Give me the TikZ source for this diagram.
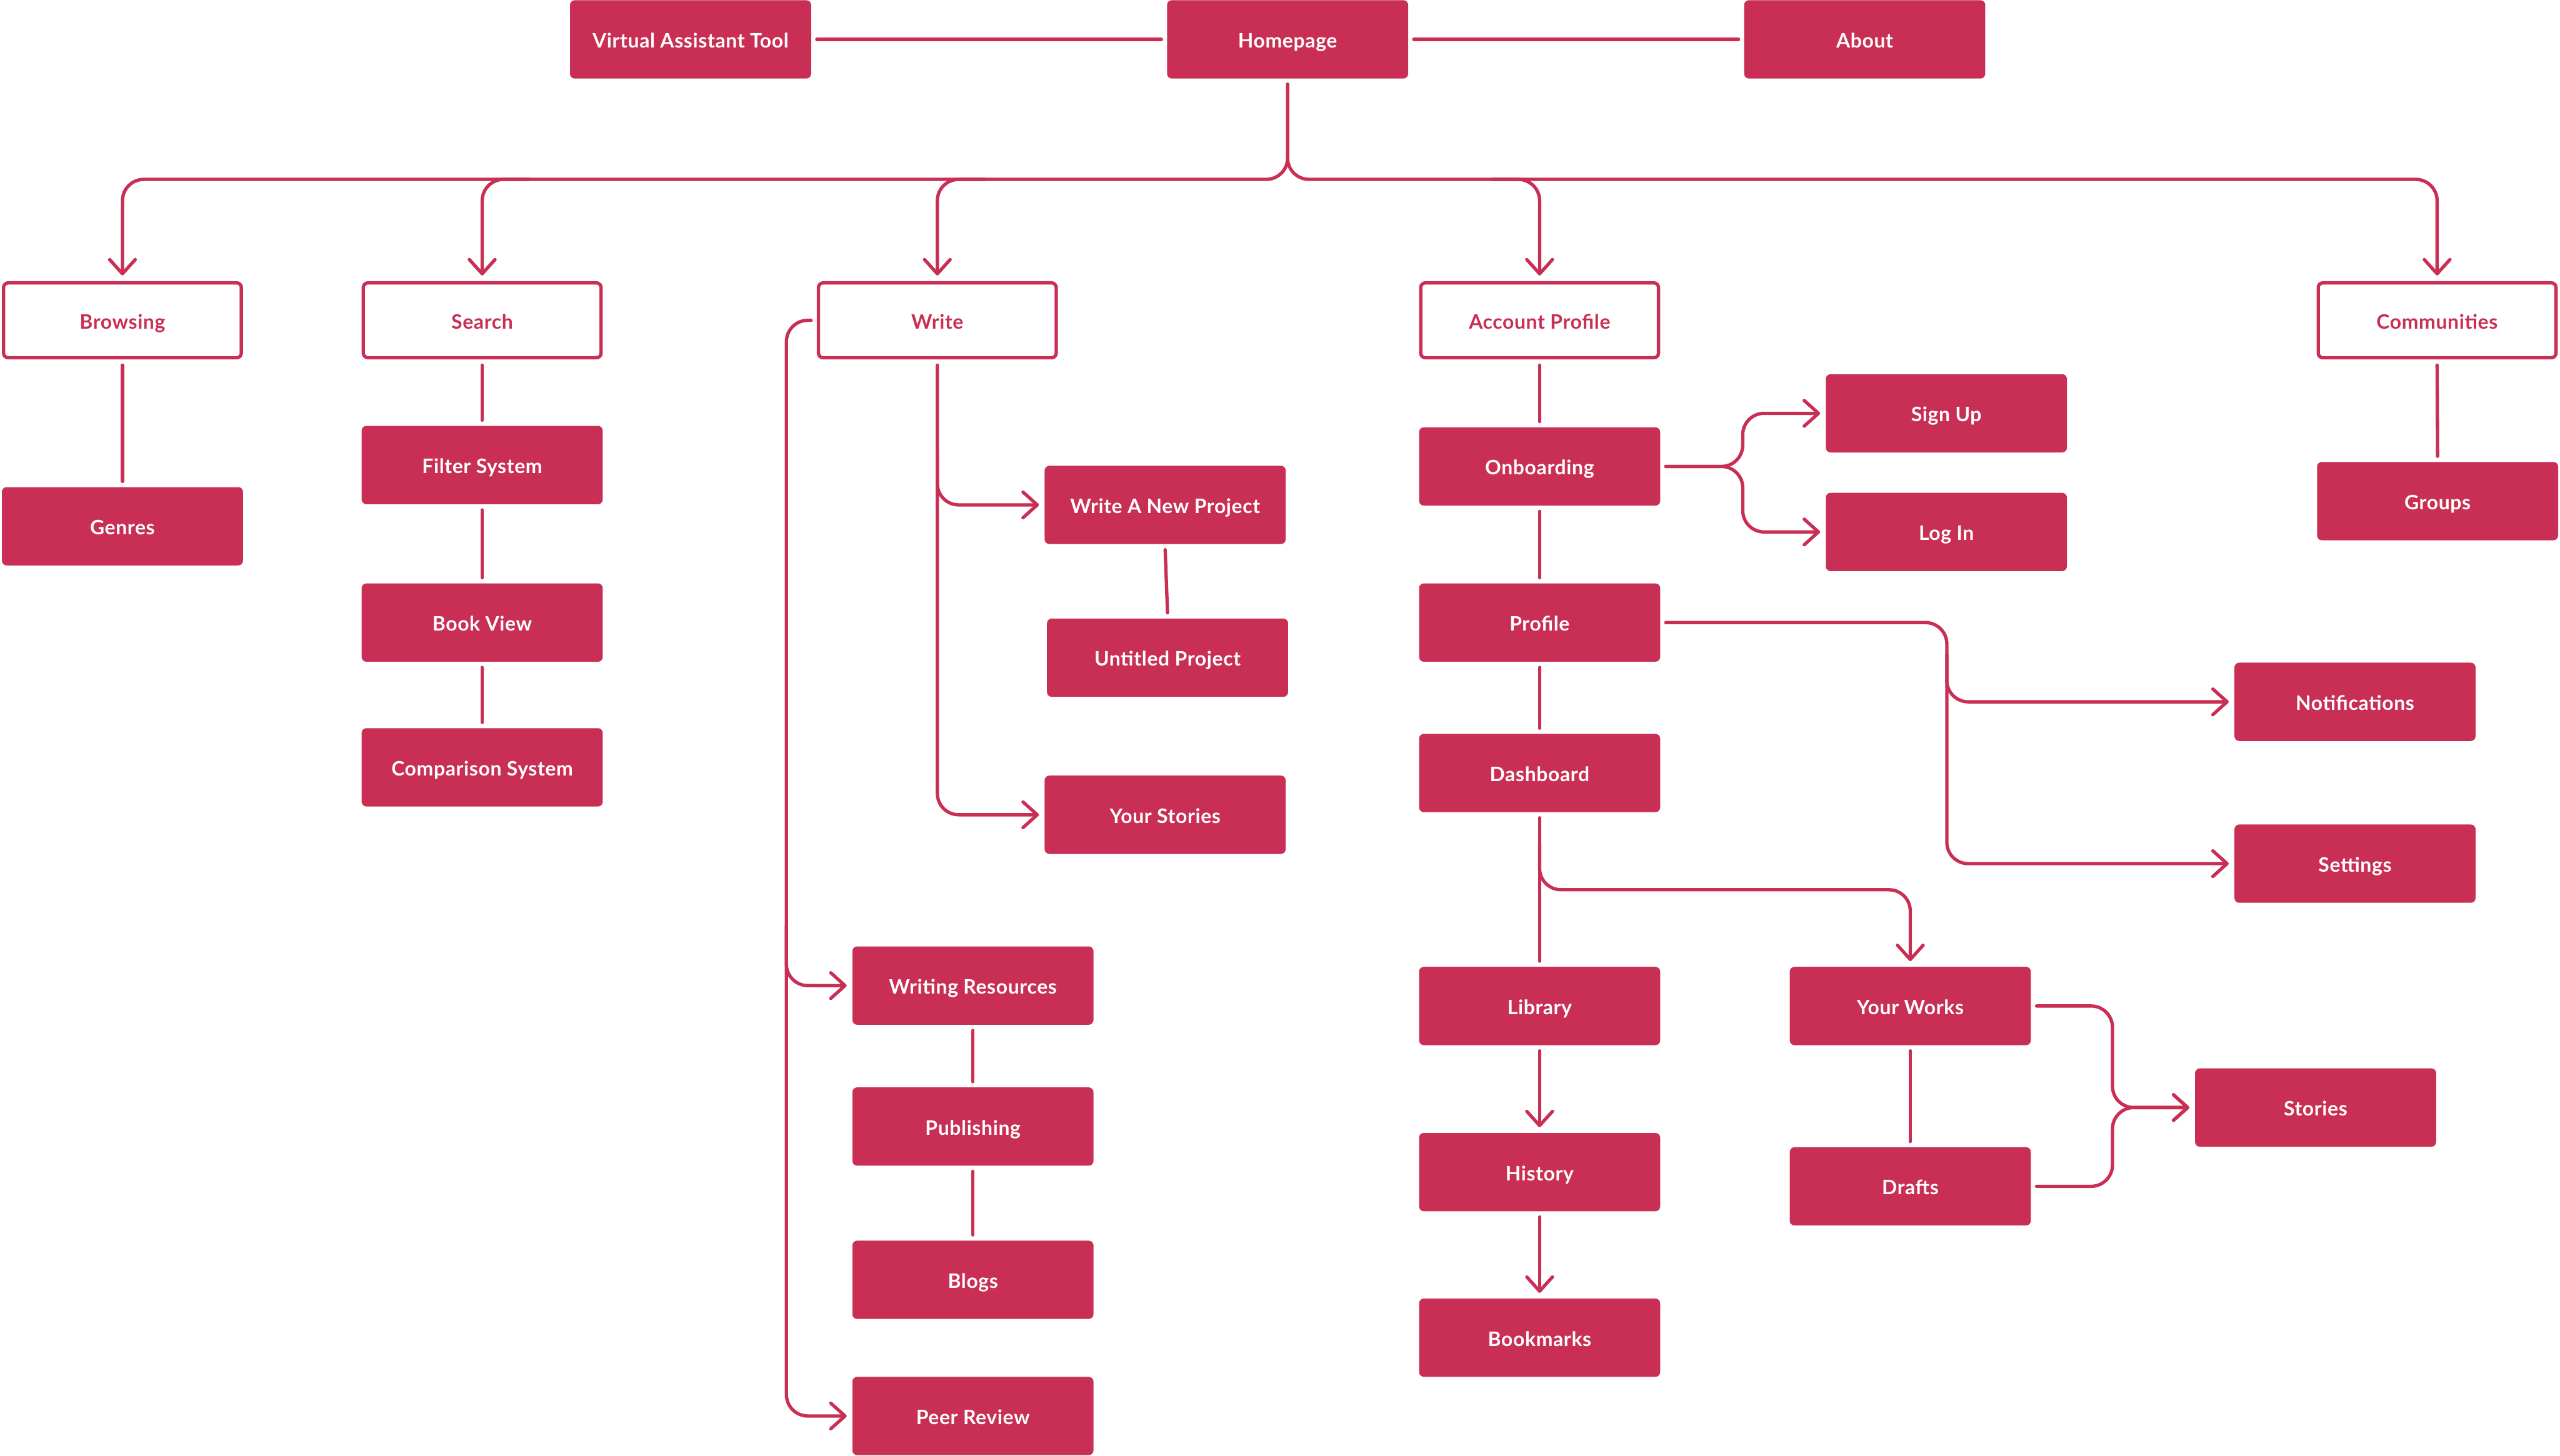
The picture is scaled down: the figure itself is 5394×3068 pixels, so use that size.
\documentclass[tikz,border=0pt]{standalone}
\usepackage{fontspec}
\setmainfont{Lato}[LetterSpace=2]
\usetikzlibrary{arrows.meta}
\definecolor{crim}{RGB}{201,46,84}
\begin{document}
\begin{tikzpicture}[x=0.2pt,y=-0.2pt,
  lbl/.style={font=\fontsize{8.4}{10}\selectfont\bfseries, text height=7.1pt, text depth=0pt},
  fbox/.style={lbl, rectangle, rounded corners=2pt, fill=crim, text=white, minimum width=101.6pt, minimum height=33pt, inner sep=0pt, outer sep=2.4pt},
  obox/.style={lbl, rectangle, rounded corners=2pt, draw=crim, line width=1.4pt, fill=white, text=crim, minimum width=100.2pt, minimum height=31.6pt, inner sep=0pt, outer sep=3.1pt},
  link/.style={draw=crim, line width=1.4pt, line cap=round, line join=round, rounded corners=9pt},
  arr/.style={link, -{Straight Barb[length=6pt,width=10.8pt,line cap=round,line join=round]}},
]
\useasboundingbox (0,0) rectangle (5394,3068);

% top row
\node[fbox] (vat) at (1455,83) {Virtual Assistant Tool};
\node[fbox] (hp) at (2713,83) {Homepage};
\node[fbox] (about) at (3929,83) {About};

% second row
\node[obox] (brw) at (258,675) {Browsing};
\node[obox] (srch) at (1016,675) {Search};
\node[obox] (wrt) at (1975,675) {Write};
\node[obox] (acc) at (3244,675) {Account Profile};
\node[obox] (com) at (5135,675) {Communities};

% browsing / search
\node[fbox] (gen) at (258,1109) {Genres};
\node[fbox] (filt) at (1016,980) {Filter System};
\node[fbox] (bv) at (1016,1312) {Book View};
\node[fbox] (comp) at (1016,1617) {Comparison System};

% write
\node[fbox] (wanp) at (2455,1064) {Write A New Project};
\node[fbox] (up) at (2460,1386) {Untitled Project};
\node[fbox] (ys) at (2455,1717) {Your Stories};
\node[fbox] (wres) at (2050,2077) {Writing Resources};
\node[fbox] (pub) at (2050,2374) {Publishing};
\node[fbox] (blogs) at (2050,2697) {Blogs};
\node[fbox] (peer) at (2050,2984) {Peer Review};

% account
\node[fbox] (onb) at (3244,983) {Onboarding};
\node[fbox] (sup) at (4101,871) {Sign Up};
\node[fbox] (login) at (4101,1121) {Log In};
\node[fbox] (prof) at (3244,1312) {Profile};
\node[fbox] (notif) at (4962,1479) {Notifications};
\node[fbox] (sett) at (4962,1820) {Settings};
\node[fbox] (dash) at (3244,1629) {Dashboard};
\node[fbox] (lib) at (3244,2120) {Library};
\node[fbox] (hist) at (3244,2470) {History};
\node[fbox] (bkm) at (3244,2819) {Bookmarks};
\node[fbox] (yw) at (4025,2120) {Your Works};
\node[fbox] (drafts) at (4025,2500) {Drafts};
\node[fbox] (stor) at (4879,2334) {Stories};

% communities
\node[fbox] (grp) at (5136,1056) {Groups};

% top connectors
\draw[link] (vat.east) -- (hp.west);
\draw[link] (hp.east) -- (about.west);

% bus
\draw[arr] (hp.south) -- (2713,378) -- (258,378) -- (brw.north);
\draw[arr] (hp.south) -- (2713,378) -- (5135,378) -- (com.north);
\draw[arr] (1116,378) -- (1016,378) -- (srch.north);
\draw[arr] (2075,378) -- (1975,378) -- (wrt.north);
\draw[arr] (3144,378) -- (3244,378) -- (acc.north);

% simple vertical links
\draw[link] (brw.south) -- (gen.north);
\draw[link] (srch.south) -- (filt.north);
\draw[link] (filt.south) -- (bv.north);
\draw[link] (bv.south) -- (comp.north);
\draw[link] (com.south) -- (grp.north);
\draw[link] (acc.south) -- (onb.north);
\draw[link] (onb.south) -- (prof.north);
\draw[link] (prof.south) -- (dash.north);
\draw[link] (wres.south) -- (pub.north);
\draw[link] (pub.south) -- (blogs.north);
\draw[link] (wanp.south) -- (up.north);

% write branches
\draw[arr] (wrt.south) -- (1975,1717) -- (ys.west);
\draw[arr] (1975,950) -- (1975,1064) -- (wanp.west);
\draw[arr] (wrt.west) -- (1657,675) -- (1657,2984) -- (peer.west);
\draw[arr] (1657,1950) -- (1657,2077) -- (wres.west);

% onboarding
\draw[arr] (onb.east) -- (3672,983) -- (3672,871) -- (sup.west);
\draw[arr] (onb.east) -- (3672,983) -- (3672,1121) -- (login.west);

% profile
\draw[arr] (prof.east) -- (4102,1312) -- (4102,1820) -- (sett.west);
\draw[arr] (4102,1380) -- (4102,1479) -- (notif.west);

% dashboard
\draw[link] (dash.south) -- (lib.north);
\draw[arr] (3244,1780) -- (3244,1875) -- (4025,1875) -- (yw.north);
\draw[arr] (lib.south) -- (hist.north);
\draw[arr] (hist.south) -- (bkm.north);
\draw[link] (yw.south) -- (drafts.north);
\draw[arr] (yw.east) -- (4451,2120) -- (4451,2334) -- (stor.west);
\draw[arr] (drafts.east) -- (4451,2500) -- (4451,2334) -- (stor.west);
\end{tikzpicture}
\end{document}
